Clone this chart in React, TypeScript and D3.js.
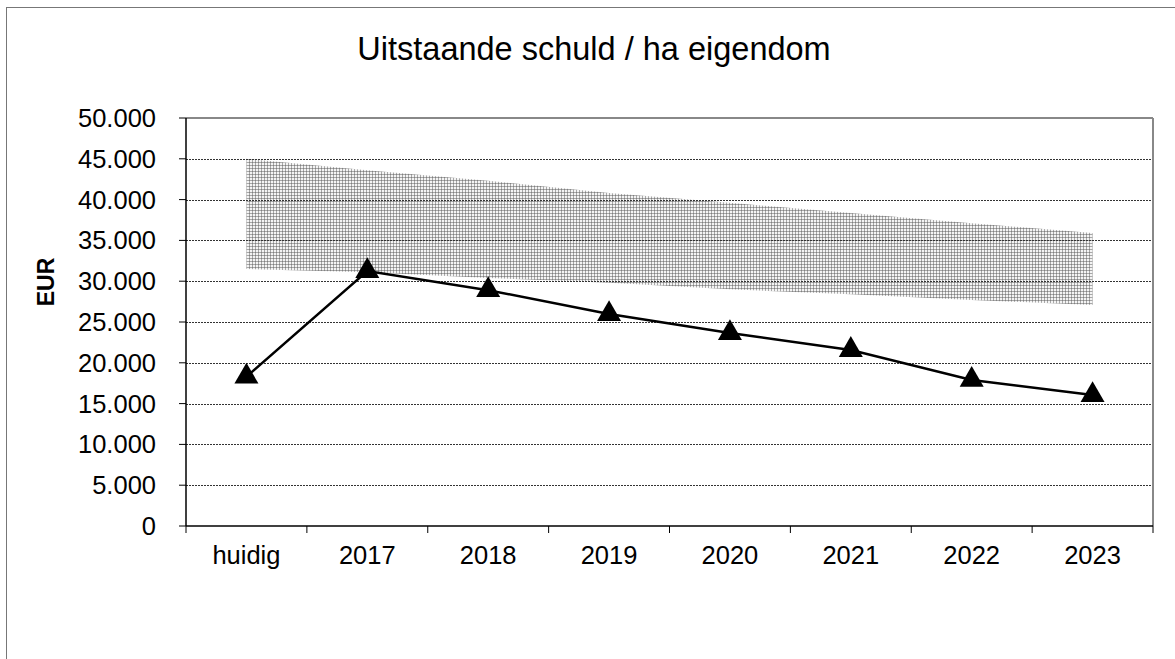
import React from "react";
import * as d3 from "d3";

const categories = ["huidig", "2017", "2018", "2019", "2020", "2021", "2022", "2023"];
const debtValues = [18300, 31250, 28900, 25980, 23650, 21570, 17900, 16050];
const bandUpper = [45000, 43600, 42300, 40800, 39600, 38350, 37100, 35900];
const bandLower = [31500, 31100, 30400, 29800, 29000, 28400, 27700, 27080];
const yTicks = [0, 5000, 10000, 15000, 20000, 25000, 30000, 35000, 40000, 45000, 50000];

const W = 1175;
const H = 659;
const left = 186;
const right = 1153;
const top = 118;
const bottom = 526;
const font = "'Liberation Sans', Arial, sans-serif";

export default function App() {
  const x = d3.scaleBand<string>().domain(categories).range([left, right]).padding(0);
  const y = d3.scaleLinear().domain([0, 50000]).range([bottom, top]);
  const cx = (c: string) => (x(c) as number) + x.bandwidth() / 2;
  const fmt = (v: number) => (v === 0 ? "0" : d3.format(",")(v).replace(/,/g, "."));

  const area = d3
    .area<number>()
    .x((_, i) => cx(categories[i]))
    .y0((_, i) => y(bandLower[i]))
    .y1((d) => y(d));
  const line = d3
    .line<number>()
    .x((_, i) => cx(categories[i]))
    .y((d) => y(d));
  const tri = d3.symbol().type(d3.symbolTriangle).size(250)();

  const xTickPos = categories.map((c) => x(c) as number).concat([right]);

  return (
    <svg
      width={W}
      height={H}
      style={{ position: "absolute", left: 0, top: 0, background: "#fff" }}
    >
      <defs>
        <pattern id="dots" width="3" height="3" patternUnits="userSpaceOnUse">
          <rect width="3" height="3" fill="#f4f4f4" />
          <rect width="3" height="1" fill="#a8a8a8" />
          <rect width="1" height="3" fill="#a8a8a8" />
          <rect width="1" height="1" fill="#808080" />
        </pattern>
      </defs>
      {/* outer frame */}
      <rect x={6.5} y={7.5} width={W + 10} height={H + 10} fill="none" stroke="#777" strokeWidth={1} />
      {/* title */}
      <text x={594} y={60} textAnchor="middle" fontFamily={font} fontSize={32.5} fill="#000">
        Uitstaande schuld / ha eigendom
      </text>
      {/* band */}
      <path d={area(bandUpper) as string} fill="url(#dots)" stroke="none" />
      {/* gridlines */}
      {yTicks
        .filter((t) => t > 0 && t < 50000)
        .map((t) => (
          <line
            key={t}
            x1={left}
            x2={right}
            y1={Math.round(y(t)) + 0.5}
            y2={Math.round(y(t)) + 0.5}
            stroke="#333"
            strokeWidth={1}
            strokeDasharray="2,1"
          />
        ))}
      {/* plot border top/right */}
      <line x1={left} x2={right} y1={top} y2={top} stroke="#888" strokeWidth={2} />
      <line x1={right} x2={right} y1={top} y2={bottom} stroke="#888" strokeWidth={2} />
      {/* axes */}
      <line x1={left} x2={left} y1={top} y2={bottom} stroke="#000" strokeWidth={1.5} />
      <line x1={left} x2={right} y1={bottom} y2={bottom} stroke="#000" strokeWidth={1.5} />
      {yTicks.map((t) => (
        <g key={t}>
          <line x1={left - 7} x2={left} y1={y(t)} y2={y(t)} stroke="#000" strokeWidth={1} />
          <text
            x={156}
            y={y(t)}
            dy="0.35em"
            textAnchor="end"
            fontFamily={font}
            fontSize={25.5}
            fill="#000"
          >
            {fmt(t)}
          </text>
        </g>
      ))}
      {xTickPos.map((p, i) => (
        <line key={i} x1={p} x2={p} y1={bottom} y2={bottom + 7} stroke="#000" strokeWidth={1} />
      ))}
      {categories.map((c) => (
        <text key={c} x={cx(c)} y={564} textAnchor="middle" fontFamily={font} fontSize={25.5} fill="#000">
          {c}
        </text>
      ))}
      <text
        transform={`translate(54, 282) rotate(-90)`}
        textAnchor="middle"
        fontFamily={font}
        fontSize={23}
        fontWeight="bold"
        fill="#000"
      >
        EUR
      </text>
      {/* line */}
      <path d={line(debtValues) as string} fill="none" stroke="#000" strokeWidth={2.5} />
      {debtValues.map((v, i) => (
        <path key={i} d={tri as string} transform={`translate(${cx(categories[i])},${y(v)})`} fill="#000" />
      ))}
    </svg>
  );
}
